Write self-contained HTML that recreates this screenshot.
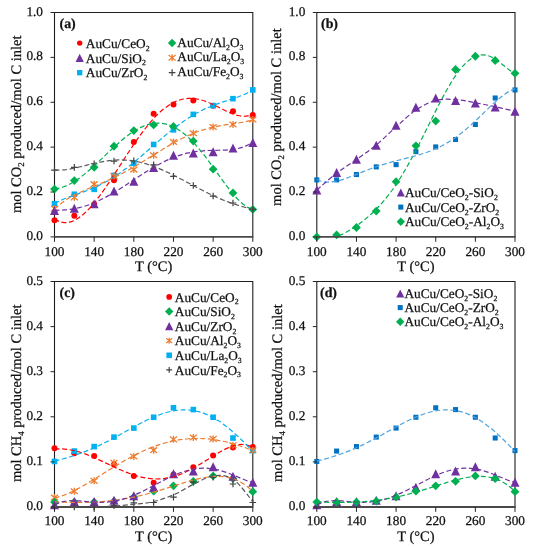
<!DOCTYPE html>
<html><head><meta charset="utf-8"><style>
html,body{margin:0;padding:0;background:#fff;width:533px;height:550px;overflow:hidden}
svg{display:block;will-change:transform}
text{font-family:"Liberation Serif",serif;fill:#111;stroke:#111;stroke-width:0.25px;text-rendering:geometricPrecision}
.tk{font-size:13.3px}
.lg{font-size:13.3px}
.sb{font-size:7.8px}
.sbx{font-size:8.8px}
.ax{font-size:14.5px}
.pl{font-size:13.9px;font-weight:bold}
</style></head><body><svg width="533" height="550" viewBox="0 0 533 550"><defs><clipPath id="clipa"><rect x="54.50" y="12.50" width="198.30" height="224.40"/></clipPath><clipPath id="clipb"><rect x="316.80" y="12.50" width="198.20" height="224.40"/></clipPath><clipPath id="clipc"><rect x="54.50" y="281.50" width="198.30" height="225.50"/></clipPath><clipPath id="clipd"><rect x="316.80" y="281.50" width="198.20" height="225.50"/></clipPath></defs><path d="M54.50,236.90 L54.50,12.50 L252.80,12.50 L252.80,236.90" fill="none" stroke="#1e1e1e" stroke-width="1.1"/><path d="M316.80,236.90 L316.80,12.50 L515.00,12.50 L515.00,236.90" fill="none" stroke="#1e1e1e" stroke-width="1.1"/><path d="M54.50,507.00 L54.50,281.50 L252.80,281.50 L252.80,507.00" fill="none" stroke="#1e1e1e" stroke-width="1.1"/><path d="M316.80,507.00 L316.80,281.50 L515.00,281.50 L515.00,507.00" fill="none" stroke="#1e1e1e" stroke-width="1.1"/><circle cx="54.50" cy="220.29" r="3.00" fill="#FF0000"/><circle cx="74.33" cy="215.81" r="3.00" fill="#FF0000"/><circle cx="94.16" cy="204.14" r="3.00" fill="#FF0000"/><circle cx="113.99" cy="180.35" r="3.00" fill="#FF0000"/><circle cx="133.82" cy="141.98" r="3.00" fill="#FF0000"/><circle cx="153.65" cy="113.70" r="3.00" fill="#FF0000"/><circle cx="173.48" cy="104.50" r="3.00" fill="#FF0000"/><circle cx="193.31" cy="100.46" r="3.00" fill="#FF0000"/><circle cx="213.14" cy="105.63" r="3.00" fill="#FF0000"/><circle cx="232.97" cy="111.24" r="3.00" fill="#FF0000"/><circle cx="252.80" cy="115.05" r="3.00" fill="#FF0000"/><rect x="51.70" y="200.89" width="5.60" height="5.60" fill="#00B0F0"/><rect x="71.53" y="191.46" width="5.60" height="5.60" fill="#00B0F0"/><rect x="91.36" y="186.53" width="5.60" height="5.60" fill="#00B0F0"/><rect x="111.19" y="172.61" width="5.60" height="5.60" fill="#00B0F0"/><rect x="131.02" y="160.50" width="5.60" height="5.60" fill="#00B0F0"/><rect x="150.85" y="141.65" width="5.60" height="5.60" fill="#00B0F0"/><rect x="170.68" y="127.06" width="5.60" height="5.60" fill="#00B0F0"/><rect x="190.51" y="111.58" width="5.60" height="5.60" fill="#00B0F0"/><rect x="210.34" y="102.83" width="5.60" height="5.60" fill="#00B0F0"/><rect x="230.17" y="95.87" width="5.60" height="5.60" fill="#00B0F0"/><rect x="250.00" y="87.12" width="5.60" height="5.60" fill="#00B0F0"/><path d="M51.00,205.83 L58.00,211.43 M51.00,211.43 L58.00,205.83 M54.50,205.13 L54.50,212.13" stroke="#ED7D31" stroke-width="1.3" fill="none"/><path d="M70.83,194.61 L77.83,200.21 M70.83,200.21 L77.83,194.61 M74.33,193.91 L74.33,200.91" stroke="#ED7D31" stroke-width="1.3" fill="none"/><path d="M90.66,181.37 L97.66,186.97 M90.66,186.97 L97.66,181.37 M94.16,180.67 L94.16,187.67" stroke="#ED7D31" stroke-width="1.3" fill="none"/><path d="M110.49,173.29 L117.49,178.89 M110.49,178.89 L117.49,173.29 M113.99,172.59 L113.99,179.59" stroke="#ED7D31" stroke-width="1.3" fill="none"/><path d="M130.32,166.78 L137.32,172.38 M130.32,172.38 L137.32,166.78 M133.82,166.08 L133.82,173.08" stroke="#ED7D31" stroke-width="1.3" fill="none"/><path d="M150.15,152.42 L157.15,158.02 M150.15,158.02 L157.15,152.42 M153.65,151.72 L153.65,158.72" stroke="#ED7D31" stroke-width="1.3" fill="none"/><path d="M169.98,139.18 L176.98,144.78 M169.98,144.78 L176.98,139.18 M173.48,138.48 L173.48,145.48" stroke="#ED7D31" stroke-width="1.3" fill="none"/><path d="M189.81,130.43 L196.81,136.03 M189.81,136.03 L196.81,130.43 M193.31,129.73 L193.31,136.73" stroke="#ED7D31" stroke-width="1.3" fill="none"/><path d="M209.64,124.14 L216.64,129.74 M209.64,129.74 L216.64,124.14 M213.14,123.44 L213.14,130.44" stroke="#ED7D31" stroke-width="1.3" fill="none"/><path d="M229.47,121.68 L236.47,127.28 M229.47,127.28 L236.47,121.68 M232.97,120.98 L232.97,127.98" stroke="#ED7D31" stroke-width="1.3" fill="none"/><path d="M249.30,116.74 L256.30,122.34 M249.30,122.34 L256.30,116.74 M252.80,116.04 L252.80,123.04" stroke="#ED7D31" stroke-width="1.3" fill="none"/><path d="M54.50,205.92 L59.00,214.92 L50.00,214.92 Z" fill="#7030A0"/><path d="M74.33,203.68 L78.83,212.68 L69.83,212.68 Z" fill="#7030A0"/><path d="M94.16,199.19 L98.66,208.19 L89.66,208.19 Z" fill="#7030A0"/><path d="M113.99,186.62 L118.49,195.62 L109.49,195.62 Z" fill="#7030A0"/><path d="M133.82,176.75 L138.32,185.75 L129.32,185.75 Z" fill="#7030A0"/><path d="M153.65,163.06 L158.15,172.06 L149.15,172.06 Z" fill="#7030A0"/><path d="M173.48,150.72 L177.98,159.72 L168.98,159.72 Z" fill="#7030A0"/><path d="M193.31,148.47 L197.81,157.47 L188.81,157.47 Z" fill="#7030A0"/><path d="M213.14,147.13 L217.64,156.13 L208.64,156.13 Z" fill="#7030A0"/><path d="M232.97,143.54 L237.47,152.54 L228.47,152.54 Z" fill="#7030A0"/><path d="M252.80,137.93 L257.30,146.93 L248.30,146.93 Z" fill="#7030A0"/><path d="M54.50,184.70 L58.90,189.10 L54.50,193.50 L50.10,189.10 Z" fill="#00B050"/><path d="M74.33,176.18 L78.73,180.58 L74.33,184.98 L69.93,180.58 Z" fill="#00B050"/><path d="M94.16,162.94 L98.56,167.34 L94.16,171.74 L89.76,167.34 Z" fill="#00B050"/><path d="M113.99,141.84 L118.39,146.24 L113.99,150.64 L109.59,146.24 Z" fill="#00B050"/><path d="M133.82,126.13 L138.22,130.53 L133.82,134.93 L129.42,130.53 Z" fill="#00B050"/><path d="M153.65,120.52 L158.05,124.92 L153.65,129.32 L149.25,124.92 Z" fill="#00B050"/><path d="M173.48,122.10 L177.88,126.50 L173.48,130.90 L169.08,126.50 Z" fill="#00B050"/><path d="M193.31,136.68 L197.71,141.08 L193.31,145.48 L188.91,141.08 Z" fill="#00B050"/><path d="M213.14,164.73 L217.54,169.13 L213.14,173.53 L208.74,169.13 Z" fill="#00B050"/><path d="M232.97,188.52 L237.37,192.92 L232.97,197.32 L228.57,192.92 Z" fill="#00B050"/><path d="M252.80,205.01 L257.20,209.41 L252.80,213.81 L248.40,209.41 Z" fill="#00B050"/><path d="M51.20,170.03 L57.80,170.03 M54.50,166.73 L54.50,173.33" stroke="#404040" stroke-width="1.2" fill="none"/><path d="M71.03,167.34 L77.63,167.34 M74.33,164.04 L74.33,170.64" stroke="#404040" stroke-width="1.2" fill="none"/><path d="M90.86,163.75 L97.46,163.75 M94.16,160.45 L94.16,167.05" stroke="#404040" stroke-width="1.2" fill="none"/><path d="M110.69,161.05 L117.29,161.05 M113.99,157.75 L113.99,164.35" stroke="#404040" stroke-width="1.2" fill="none"/><path d="M130.52,160.83 L137.12,160.83 M133.82,157.53 L133.82,164.13" stroke="#404040" stroke-width="1.2" fill="none"/><path d="M150.35,164.87 L156.95,164.87 M153.65,161.57 L153.65,168.17" stroke="#404040" stroke-width="1.2" fill="none"/><path d="M170.18,176.31 L176.78,176.31 M173.48,173.01 L173.48,179.61" stroke="#404040" stroke-width="1.2" fill="none"/><path d="M190.01,185.51 L196.61,185.51 M193.31,182.21 L193.31,188.81" stroke="#404040" stroke-width="1.2" fill="none"/><path d="M209.84,196.06 L216.44,196.06 M213.14,192.76 L213.14,199.36" stroke="#404040" stroke-width="1.2" fill="none"/><path d="M229.67,203.02 L236.27,203.02 M232.97,199.72 L232.97,206.32" stroke="#404040" stroke-width="1.2" fill="none"/><path d="M249.50,209.41 L256.10,209.41 M252.80,206.11 L252.80,212.71" stroke="#404040" stroke-width="1.2" fill="none"/><path d="M54.50,219.02 C55.33,219.44 57.80,220.97 59.46,221.56 C61.11,222.16 62.76,222.47 64.42,222.57 C66.07,222.66 67.72,222.50 69.37,222.14 C71.03,221.78 72.68,221.18 74.33,220.40 C75.98,219.62 77.63,218.63 79.29,217.48 C80.94,216.33 82.59,214.98 84.25,213.50 C85.90,212.02 87.55,210.37 89.20,208.60 C90.86,206.83 92.51,204.91 94.16,202.90 C95.81,200.89 97.47,198.75 99.12,196.54 C100.77,194.34 102.42,192.02 104.08,189.66 C105.73,187.29 107.38,184.84 109.03,182.37 C110.69,179.89 112.34,177.35 113.99,174.81 C115.64,172.27 117.30,169.68 118.95,167.11 C120.60,164.53 122.25,161.94 123.91,159.38 C125.56,156.82 127.21,154.25 128.86,151.74 C130.52,149.23 132.17,146.73 133.82,144.31 C135.47,141.88 137.12,139.49 138.78,137.17 C140.43,134.86 142.08,132.61 143.74,130.44 C145.39,128.28 147.04,126.19 148.69,124.20 C150.34,122.21 152.00,120.30 153.65,118.51 C155.30,116.72 156.96,115.03 158.61,113.46 C160.26,111.89 161.91,110.42 163.56,109.08 C165.22,107.75 166.87,106.53 168.52,105.43 C170.18,104.34 171.83,103.37 173.48,102.54 C175.13,101.70 176.78,100.99 178.44,100.40 C180.09,99.82 181.74,99.36 183.40,99.03 C185.05,98.70 186.70,98.50 188.35,98.41 C190.01,98.32 191.66,98.35 193.31,98.49 C194.96,98.63 196.62,98.88 198.27,99.23 C199.92,99.57 201.57,100.03 203.22,100.55 C204.88,101.07 206.53,101.69 208.18,102.36 C209.84,103.02 211.49,103.77 213.14,104.54 C214.79,105.31 216.44,106.15 218.10,106.97 C219.75,107.79 221.40,108.65 223.06,109.47 C224.71,110.29 226.36,111.12 228.01,111.87 C229.67,112.62 231.32,113.35 232.97,113.96 C234.62,114.56 236.28,115.12 237.93,115.50 C239.58,115.88 241.23,116.18 242.89,116.24 C244.54,116.30 246.19,116.24 247.84,115.89 C249.50,115.53 251.97,114.42 252.80,114.12" fill="none" stroke="#FF0000" stroke-width="1.20" stroke-dasharray="5,2.6" clip-path="url(#clipa)"/><path d="M54.50,203.51 C55.33,203.08 57.80,201.73 59.46,200.94 C61.11,200.15 62.76,199.46 64.42,198.78 C66.07,198.11 67.72,197.50 69.37,196.89 C71.03,196.28 72.68,195.71 74.33,195.13 C75.98,194.55 77.63,194.00 79.29,193.41 C80.94,192.83 82.59,192.25 84.25,191.64 C85.90,191.03 87.55,190.40 89.20,189.74 C90.86,189.08 92.51,188.39 94.16,187.67 C95.81,186.94 97.47,186.18 99.12,185.37 C100.77,184.56 102.42,183.72 104.08,182.83 C105.73,181.94 107.38,181.01 109.03,180.03 C110.69,179.05 112.34,178.03 113.99,176.96 C115.64,175.90 117.30,174.79 118.95,173.65 C120.60,172.50 122.25,171.31 123.91,170.09 C125.56,168.86 127.21,167.60 128.86,166.31 C130.52,165.02 132.17,163.69 133.82,162.35 C135.47,161.00 137.12,159.62 138.78,158.23 C140.43,156.84 142.08,155.43 143.74,154.01 C145.39,152.59 147.04,151.15 148.69,149.72 C150.34,148.28 152.00,146.83 153.65,145.40 C155.30,143.96 156.96,142.52 158.61,141.10 C160.26,139.68 161.91,138.26 163.56,136.87 C165.22,135.48 166.87,134.10 168.52,132.75 C170.18,131.40 171.83,130.07 173.48,128.78 C175.13,127.49 176.78,126.22 178.44,125.00 C180.09,123.77 181.74,122.58 183.40,121.43 C185.05,120.28 186.70,119.17 188.35,118.11 C190.01,117.04 191.66,116.02 193.31,115.04 C194.96,114.07 196.62,113.14 198.27,112.25 C199.92,111.36 201.57,110.53 203.22,109.73 C204.88,108.93 206.53,108.18 208.18,107.46 C209.84,106.75 211.49,106.08 213.14,105.43 C214.79,104.79 216.44,104.19 218.10,103.60 C219.75,103.01 221.40,102.46 223.06,101.92 C224.71,101.37 226.36,100.85 228.01,100.31 C229.67,99.77 231.32,99.25 232.97,98.70 C234.62,98.15 236.28,97.60 237.93,96.99 C239.58,96.38 241.23,95.76 242.89,95.05 C244.54,94.34 246.19,93.60 247.84,92.74 C249.50,91.89 251.97,90.38 252.80,89.91" fill="none" stroke="#00B0F0" stroke-width="1.20" stroke-dasharray="5,2.6" clip-path="url(#clipa)"/><path d="M54.50,209.27 C55.33,208.52 57.80,206.13 59.46,204.75 C61.11,203.37 62.76,202.14 64.42,200.98 C66.07,199.82 67.72,198.79 69.37,197.80 C71.03,196.81 72.68,195.91 74.33,195.05 C75.98,194.19 77.63,193.40 79.29,192.63 C80.94,191.85 82.59,191.13 84.25,190.41 C85.90,189.70 87.55,189.01 89.20,188.32 C90.86,187.64 92.51,186.96 94.16,186.28 C95.81,185.60 97.47,184.92 99.12,184.23 C100.77,183.53 102.42,182.83 104.08,182.11 C105.73,181.39 107.38,180.66 109.03,179.91 C110.69,179.15 112.34,178.38 113.99,177.58 C115.64,176.79 117.30,175.97 118.95,175.13 C120.60,174.29 122.25,173.43 123.91,172.54 C125.56,171.66 127.21,170.75 128.86,169.83 C130.52,168.90 132.17,167.95 133.82,166.99 C135.47,166.03 137.12,165.05 138.78,164.06 C140.43,163.07 142.08,162.06 143.74,161.05 C145.39,160.03 147.04,159.01 148.69,157.98 C150.34,156.96 152.00,155.93 153.65,154.90 C155.30,153.88 156.96,152.85 158.61,151.83 C160.26,150.82 161.91,149.81 163.56,148.81 C165.22,147.82 166.87,146.83 168.52,145.87 C170.18,144.91 171.83,143.96 173.48,143.04 C175.13,142.12 176.78,141.22 178.44,140.35 C180.09,139.48 181.74,138.63 183.40,137.83 C185.05,137.02 186.70,136.24 188.35,135.50 C190.01,134.76 191.66,134.05 193.31,133.38 C194.96,132.71 196.62,132.08 198.27,131.49 C199.92,130.90 201.57,130.34 203.22,129.83 C204.88,129.31 206.53,128.83 208.18,128.39 C209.84,127.94 211.49,127.54 213.14,127.16 C214.79,126.79 216.44,126.45 218.10,126.13 C219.75,125.81 221.40,125.53 223.06,125.26 C224.71,124.98 226.36,124.74 228.01,124.49 C229.67,124.25 231.32,124.02 232.97,123.79 C234.62,123.55 236.28,123.32 237.93,123.06 C239.58,122.80 241.23,122.54 242.89,122.22 C244.54,121.91 246.19,121.58 247.84,121.18 C249.50,120.77 251.97,120.03 252.80,119.80" fill="none" stroke="#ED7D31" stroke-width="1.20" stroke-dasharray="5,2.6" clip-path="url(#clipa)"/><path d="M54.50,210.28 C55.33,210.27 57.80,210.27 59.46,210.21 C61.11,210.16 62.76,210.08 64.42,209.96 C66.07,209.83 67.72,209.67 69.37,209.47 C71.03,209.26 72.68,209.01 74.33,208.71 C75.98,208.41 77.63,208.06 79.29,207.67 C80.94,207.27 82.59,206.82 84.25,206.33 C85.90,205.83 87.55,205.28 89.20,204.69 C90.86,204.09 92.51,203.45 94.16,202.76 C95.81,202.07 97.47,201.33 99.12,200.55 C100.77,199.77 102.42,198.94 104.08,198.08 C105.73,197.23 107.38,196.32 109.03,195.39 C110.69,194.46 112.34,193.50 113.99,192.51 C115.64,191.52 117.30,190.50 118.95,189.46 C120.60,188.43 122.25,187.37 123.91,186.30 C125.56,185.23 127.21,184.14 128.86,183.06 C130.52,181.97 132.17,180.88 133.82,179.79 C135.47,178.70 137.12,177.61 138.78,176.53 C140.43,175.45 142.08,174.38 143.74,173.32 C145.39,172.27 147.04,171.23 148.69,170.22 C150.34,169.21 152.00,168.21 153.65,167.25 C155.30,166.29 156.96,165.36 158.61,164.46 C160.26,163.57 161.91,162.70 163.56,161.88 C165.22,161.06 166.87,160.28 168.52,159.54 C170.18,158.80 171.83,158.11 173.48,157.46 C175.13,156.81 176.78,156.21 178.44,155.66 C180.09,155.10 181.74,154.60 183.40,154.14 C185.05,153.68 186.70,153.27 188.35,152.91 C190.01,152.54 191.66,152.23 193.31,151.95 C194.96,151.68 196.62,151.45 198.27,151.25 C199.92,151.06 201.57,150.91 203.22,150.78 C204.88,150.66 206.53,150.57 208.18,150.50 C209.84,150.42 211.49,150.38 213.14,150.34 C214.79,150.30 216.44,150.28 218.10,150.24 C219.75,150.21 221.40,150.18 223.06,150.12 C224.71,150.06 226.36,149.99 228.01,149.87 C229.67,149.75 231.32,149.61 232.97,149.38 C234.62,149.16 236.28,148.90 237.93,148.52 C239.58,148.15 241.23,147.71 242.89,147.13 C244.54,146.56 246.19,145.89 247.84,145.05 C249.50,144.20 251.97,142.57 252.80,142.07" fill="none" stroke="#7030A0" stroke-width="1.20" stroke-dasharray="5,2.6" clip-path="url(#clipa)"/><path d="M54.50,188.91 C55.33,188.77 57.80,188.48 59.46,188.09 C61.11,187.69 62.76,187.16 64.42,186.54 C66.07,185.91 67.72,185.15 69.37,184.31 C71.03,183.47 72.68,182.52 74.33,181.49 C75.98,180.46 77.63,179.33 79.29,178.14 C80.94,176.95 82.59,175.67 84.25,174.35 C85.90,173.02 87.55,171.62 89.20,170.19 C90.86,168.76 92.51,167.27 94.16,165.76 C95.81,164.26 97.47,162.70 99.12,161.15 C100.77,159.60 102.42,158.02 104.08,156.45 C105.73,154.88 107.38,153.30 109.03,151.74 C110.69,150.19 112.34,148.64 113.99,147.13 C115.64,145.62 117.30,144.13 118.95,142.69 C120.60,141.26 122.25,139.86 123.91,138.53 C125.56,137.19 127.21,135.91 128.86,134.71 C130.52,133.51 132.17,132.37 133.82,131.32 C135.47,130.27 137.12,129.30 138.78,128.43 C140.43,127.57 142.08,126.79 143.74,126.12 C145.39,125.45 147.04,124.88 148.69,124.43 C150.34,123.98 152.00,123.64 153.65,123.42 C155.30,123.21 156.96,123.11 158.61,123.14 C160.26,123.17 161.91,123.32 163.56,123.61 C165.22,123.89 166.87,124.30 168.52,124.85 C170.18,125.39 171.83,126.07 173.48,126.87 C175.13,127.67 176.78,128.61 178.44,129.67 C180.09,130.73 181.74,131.92 183.40,133.22 C185.05,134.53 186.70,135.96 188.35,137.50 C190.01,139.03 191.66,140.69 193.31,142.44 C194.96,144.19 196.62,146.05 198.27,147.99 C199.92,149.92 201.57,151.96 203.22,154.05 C204.88,156.14 206.53,158.32 208.18,160.53 C209.84,162.73 211.49,165.01 213.14,167.29 C214.79,169.56 216.44,171.89 218.10,174.19 C219.75,176.48 221.40,178.80 223.06,181.05 C224.71,183.31 226.36,185.56 228.01,187.70 C229.67,189.85 231.32,191.96 232.97,193.92 C234.62,195.87 236.28,197.76 237.93,199.45 C239.58,201.14 241.23,202.72 242.89,204.04 C244.54,205.37 246.19,206.54 247.84,207.40 C249.50,208.26 251.97,208.91 252.80,209.21" fill="none" stroke="#00B050" stroke-width="1.20" stroke-dasharray="5,2.6" clip-path="url(#clipa)"/><path d="M54.50,169.76 C55.33,169.81 57.80,170.05 59.46,170.06 C61.11,170.07 62.76,169.97 64.42,169.82 C66.07,169.66 67.72,169.42 69.37,169.15 C71.03,168.88 72.68,168.54 74.33,168.19 C75.98,167.84 77.63,167.44 79.29,167.04 C80.94,166.64 82.59,166.21 84.25,165.79 C85.90,165.37 87.55,164.94 89.20,164.53 C90.86,164.12 92.51,163.70 94.16,163.32 C95.81,162.94 97.47,162.57 99.12,162.24 C100.77,161.91 102.42,161.59 104.08,161.32 C105.73,161.05 107.38,160.81 109.03,160.62 C110.69,160.42 112.34,160.27 113.99,160.16 C115.64,160.04 117.30,159.98 118.95,159.96 C120.60,159.94 122.25,159.96 123.91,160.04 C125.56,160.11 127.21,160.23 128.86,160.40 C130.52,160.57 132.17,160.79 133.82,161.06 C135.47,161.33 137.12,161.64 138.78,162.00 C140.43,162.36 142.08,162.77 143.74,163.22 C145.39,163.67 147.04,164.17 148.69,164.70 C150.34,165.23 152.00,165.81 153.65,166.42 C155.30,167.03 156.96,167.68 158.61,168.35 C160.26,169.03 161.91,169.74 163.56,170.48 C165.22,171.22 166.87,171.99 168.52,172.77 C170.18,173.56 171.83,174.37 173.48,175.20 C175.13,176.02 176.78,176.87 178.44,177.73 C180.09,178.58 181.74,179.45 183.40,180.32 C185.05,181.20 186.70,182.08 188.35,182.96 C190.01,183.84 191.66,184.72 193.31,185.60 C194.96,186.47 196.62,187.35 198.27,188.21 C199.92,189.07 201.57,189.93 203.22,190.77 C204.88,191.60 206.53,192.43 208.18,193.24 C209.84,194.05 211.49,194.84 213.14,195.61 C214.79,196.38 216.44,197.13 218.10,197.85 C219.75,198.57 221.40,199.27 223.06,199.94 C224.71,200.62 226.36,201.26 228.01,201.88 C229.67,202.50 231.32,203.09 232.97,203.66 C234.62,204.22 236.28,204.76 237.93,205.27 C239.58,205.78 241.23,206.26 242.89,206.72 C244.54,207.18 246.19,207.61 247.84,208.03 C249.50,208.44 251.97,209.01 252.80,209.20" fill="none" stroke="#595959" stroke-width="1.20" stroke-dasharray="5,2.6" clip-path="url(#clipa)"/><path d="M316.80,232.50 L321.20,236.90 L316.80,241.30 L312.40,236.90 Z" fill="#00B050"/><path d="M336.62,230.48 L341.02,234.88 L336.62,239.28 L332.22,234.88 Z" fill="#00B050"/><path d="M356.44,223.08 L360.84,227.48 L356.44,231.88 L352.04,227.48 Z" fill="#00B050"/><path d="M376.26,206.69 L380.66,211.09 L376.26,215.49 L371.86,211.09 Z" fill="#00B050"/><path d="M396.08,177.30 L400.48,181.70 L396.08,186.10 L391.68,181.70 Z" fill="#00B050"/><path d="M415.90,141.39 L420.30,145.79 L415.90,150.19 L411.50,145.79 Z" fill="#00B050"/><path d="M435.72,116.71 L440.12,121.11 L435.72,125.51 L431.32,121.11 Z" fill="#00B050"/><path d="M455.54,65.10 L459.94,69.50 L455.54,73.90 L451.14,69.50 Z" fill="#00B050"/><path d="M475.36,51.86 L479.76,56.26 L475.36,60.66 L470.96,56.26 Z" fill="#00B050"/><path d="M495.18,56.12 L499.58,60.52 L495.18,64.92 L490.78,60.52 Z" fill="#00B050"/><path d="M515.00,68.91 L519.40,73.31 L515.00,77.71 L510.60,73.31 Z" fill="#00B050"/><rect x="314.28" y="177.38" width="5.04" height="5.04" fill="#0070C0"/><rect x="334.10" y="177.38" width="5.04" height="5.04" fill="#0070C0"/><rect x="353.92" y="172.00" width="5.04" height="5.04" fill="#0070C0"/><rect x="373.74" y="164.37" width="5.04" height="5.04" fill="#0070C0"/><rect x="393.56" y="162.12" width="5.04" height="5.04" fill="#0070C0"/><rect x="413.38" y="149.11" width="5.04" height="5.04" fill="#0070C0"/><rect x="433.20" y="144.40" width="5.04" height="5.04" fill="#0070C0"/><rect x="453.02" y="136.99" width="5.04" height="5.04" fill="#0070C0"/><rect x="472.84" y="121.96" width="5.04" height="5.04" fill="#0070C0"/><rect x="492.66" y="95.48" width="5.04" height="5.04" fill="#0070C0"/><rect x="512.48" y="87.40" width="5.04" height="5.04" fill="#0070C0"/><path d="M316.80,185.50 L321.30,194.50 L312.30,194.50 Z" fill="#7030A0"/><path d="M336.62,168.00 L341.12,177.00 L332.12,177.00 Z" fill="#7030A0"/><path d="M356.44,154.76 L360.94,163.76 L351.94,163.76 Z" fill="#7030A0"/><path d="M376.26,140.84 L380.76,149.84 L371.76,149.84 Z" fill="#7030A0"/><path d="M396.08,120.87 L400.58,129.87 L391.58,129.87 Z" fill="#7030A0"/><path d="M415.90,102.70 L420.40,111.70 L411.40,111.70 Z" fill="#7030A0"/><path d="M435.72,93.50 L440.22,102.50 L431.22,102.50 Z" fill="#7030A0"/><path d="M455.54,95.96 L460.04,104.96 L451.04,104.96 Z" fill="#7030A0"/><path d="M475.36,98.43 L479.86,107.43 L470.86,107.43 Z" fill="#7030A0"/><path d="M495.18,102.47 L499.68,111.47 L490.68,111.47 Z" fill="#7030A0"/><path d="M515.00,106.74 L519.50,115.74 L510.50,115.74 Z" fill="#7030A0"/><path d="M316.80,236.48 C317.63,236.80 320.10,238.01 321.75,238.39 C323.41,238.78 325.06,238.85 326.71,238.80 C328.36,238.75 330.01,238.47 331.67,238.10 C333.32,237.74 334.97,237.20 336.62,236.60 C338.27,236.01 339.92,235.29 341.57,234.52 C343.23,233.74 344.88,232.89 346.53,231.98 C348.18,231.07 349.83,230.10 351.49,229.07 C353.14,228.05 354.79,226.97 356.44,225.84 C358.09,224.70 359.74,223.51 361.39,222.26 C363.05,221.01 364.70,219.70 366.35,218.32 C368.00,216.94 369.65,215.50 371.31,213.98 C372.96,212.45 374.61,210.86 376.26,209.17 C377.91,207.48 379.56,205.72 381.22,203.85 C382.87,201.98 384.52,200.03 386.17,197.97 C387.82,195.91 389.47,193.76 391.12,191.50 C392.78,189.24 394.43,186.87 396.08,184.41 C397.73,181.95 399.38,179.38 401.04,176.71 C402.69,174.05 404.34,171.28 405.99,168.43 C407.64,165.58 409.29,162.62 410.94,159.60 C412.60,156.59 414.25,153.47 415.90,150.32 C417.55,147.16 419.20,143.93 420.86,140.67 C422.51,137.41 424.16,134.09 425.81,130.78 C427.46,127.47 429.11,124.11 430.76,120.79 C432.42,117.48 434.07,114.14 435.72,110.88 C437.37,107.62 439.02,104.37 440.68,101.22 C442.33,98.07 443.98,94.97 445.63,92.00 C447.28,89.04 448.93,86.14 450.59,83.42 C452.24,80.70 453.89,78.09 455.54,75.67 C457.19,73.26 458.84,70.99 460.50,68.94 C462.15,66.89 463.80,65.02 465.45,63.39 C467.10,61.76 468.75,60.33 470.40,59.15 C472.06,57.98 473.71,57.03 475.36,56.33 C477.01,55.64 478.66,55.19 480.31,54.97 C481.97,54.76 483.62,54.81 485.27,55.07 C486.92,55.32 488.57,55.83 490.23,56.51 C491.88,57.19 493.53,58.11 495.18,59.14 C496.83,60.16 498.48,61.40 500.13,62.65 C501.79,63.90 503.44,65.32 505.09,66.64 C506.74,67.96 508.39,69.38 510.05,70.56 C511.70,71.73 514.17,73.18 515.00,73.70" fill="none" stroke="#00B050" stroke-width="1.20" stroke-dasharray="5,2.6" clip-path="url(#clipb)"/><path d="M316.80,179.41 C317.63,179.73 320.10,180.87 321.75,181.31 C323.41,181.76 325.06,181.97 326.71,182.08 C328.36,182.18 330.01,182.11 331.67,181.95 C333.32,181.80 334.97,181.50 336.62,181.14 C338.27,180.79 339.92,180.33 341.57,179.83 C343.23,179.34 344.88,178.77 346.53,178.18 C348.18,177.59 349.83,176.95 351.49,176.31 C353.14,175.67 354.79,175.00 356.44,174.34 C358.09,173.67 359.74,173.00 361.39,172.33 C363.05,171.67 364.70,171.01 366.35,170.37 C368.00,169.73 369.65,169.10 371.31,168.49 C372.96,167.89 374.61,167.29 376.26,166.73 C377.91,166.16 379.56,165.61 381.22,165.08 C382.87,164.56 384.52,164.05 386.17,163.56 C387.82,163.08 389.47,162.61 391.12,162.16 C392.78,161.70 394.43,161.27 396.08,160.84 C397.73,160.41 399.38,159.99 401.04,159.58 C402.69,159.16 404.34,158.75 405.99,158.34 C407.64,157.92 409.29,157.51 410.94,157.08 C412.60,156.64 414.25,156.21 415.90,155.75 C417.55,155.28 419.20,154.81 420.86,154.30 C422.51,153.79 424.16,153.27 425.81,152.70 C427.46,152.13 429.11,151.53 430.76,150.88 C432.42,150.24 434.07,149.56 435.72,148.82 C437.37,148.09 439.02,147.31 440.68,146.48 C442.33,145.64 443.98,144.76 445.63,143.82 C447.28,142.88 448.93,141.88 450.59,140.82 C452.24,139.77 453.89,138.66 455.54,137.49 C457.19,136.32 458.84,135.09 460.50,133.81 C462.15,132.53 463.80,131.19 465.45,129.81 C467.10,128.42 468.75,126.98 470.40,125.51 C472.06,124.04 473.71,122.51 475.36,120.97 C477.01,119.42 478.66,117.84 480.31,116.25 C481.97,114.66 483.62,113.04 485.27,111.44 C486.92,109.84 488.57,108.23 490.23,106.66 C491.88,105.09 493.53,103.52 495.18,102.04 C496.83,100.55 498.48,99.08 500.13,97.73 C501.79,96.38 503.44,95.08 505.09,93.94 C506.74,92.80 508.39,91.73 510.05,90.87 C511.70,90.01 514.17,89.13 515.00,88.78" fill="none" stroke="#4FA3DE" stroke-width="1.20" stroke-dasharray="5,2.6" clip-path="url(#clipb)"/><path d="M316.80,190.00 C320.10,187.20 330.01,178.26 336.62,173.17 C343.23,168.08 349.83,164.19 356.44,159.48 C363.05,154.77 369.65,150.32 376.26,144.90 C382.87,139.47 389.47,132.74 396.08,126.94 C402.69,121.15 409.29,114.53 415.90,110.11 C422.51,105.70 429.11,102.22 435.72,100.46 C442.33,98.71 448.93,99.19 455.54,99.57 C462.15,99.94 468.75,101.51 475.36,102.71 C481.97,103.91 488.57,105.33 495.18,106.75 C501.79,108.17 511.70,110.49 515.00,111.24" fill="none" stroke="#7030A0" stroke-width="1.20" stroke-dasharray="5,2.6" clip-path="url(#clipb)"/><circle cx="54.50" cy="448.37" r="3.00" fill="#FF0000"/><circle cx="74.33" cy="453.33" r="3.00" fill="#FF0000"/><circle cx="94.16" cy="456.04" r="3.00" fill="#FF0000"/><circle cx="113.99" cy="464.61" r="3.00" fill="#FF0000"/><circle cx="133.82" cy="475.88" r="3.00" fill="#FF0000"/><circle cx="153.65" cy="482.65" r="3.00" fill="#FF0000"/><circle cx="173.48" cy="474.53" r="3.00" fill="#FF0000"/><circle cx="193.31" cy="467.31" r="3.00" fill="#FF0000"/><circle cx="213.14" cy="455.59" r="3.00" fill="#FF0000"/><circle cx="232.97" cy="447.47" r="3.00" fill="#FF0000"/><circle cx="252.80" cy="447.02" r="3.00" fill="#FF0000"/><rect x="51.70" y="458.65" width="5.60" height="5.60" fill="#00B0F0"/><rect x="71.53" y="448.28" width="5.60" height="5.60" fill="#00B0F0"/><rect x="91.36" y="443.77" width="5.60" height="5.60" fill="#00B0F0"/><rect x="111.19" y="434.30" width="5.60" height="5.60" fill="#00B0F0"/><rect x="131.02" y="425.27" width="5.60" height="5.60" fill="#00B0F0"/><rect x="150.85" y="414.45" width="5.60" height="5.60" fill="#00B0F0"/><rect x="170.68" y="404.98" width="5.60" height="5.60" fill="#00B0F0"/><rect x="190.51" y="406.78" width="5.60" height="5.60" fill="#00B0F0"/><rect x="210.34" y="414.45" width="5.60" height="5.60" fill="#00B0F0"/><rect x="230.17" y="435.20" width="5.60" height="5.60" fill="#00B0F0"/><rect x="250.00" y="447.82" width="5.60" height="5.60" fill="#00B0F0"/><path d="M51.00,494.73 L58.00,500.33 M51.00,500.33 L58.00,494.73 M54.50,494.03 L54.50,501.03" stroke="#ED7D31" stroke-width="1.3" fill="none"/><path d="M70.83,488.41 L77.83,494.01 M70.83,494.01 L77.83,488.41 M74.33,487.71 L74.33,494.71" stroke="#ED7D31" stroke-width="1.3" fill="none"/><path d="M90.66,478.04 L97.66,483.64 M90.66,483.64 L97.66,478.04 M94.16,477.34 L94.16,484.34" stroke="#ED7D31" stroke-width="1.3" fill="none"/><path d="M110.49,460.00 L117.49,465.60 M110.49,465.60 L117.49,460.00 M113.99,459.30 L113.99,466.30" stroke="#ED7D31" stroke-width="1.3" fill="none"/><path d="M130.32,453.69 L137.32,459.29 M130.32,459.29 L137.32,453.69 M133.82,452.99 L133.82,459.99" stroke="#ED7D31" stroke-width="1.3" fill="none"/><path d="M150.15,447.37 L157.15,452.97 M150.15,452.97 L157.15,447.37 M153.65,446.67 L153.65,453.67" stroke="#ED7D31" stroke-width="1.3" fill="none"/><path d="M169.98,436.55 L176.98,442.15 M169.98,442.15 L176.98,436.55 M173.48,435.85 L173.48,442.85" stroke="#ED7D31" stroke-width="1.3" fill="none"/><path d="M189.81,434.75 L196.81,440.35 M189.81,440.35 L196.81,434.75 M193.31,434.05 L193.31,441.05" stroke="#ED7D31" stroke-width="1.3" fill="none"/><path d="M209.64,436.10 L216.64,441.70 M209.64,441.70 L216.64,436.10 M213.14,435.40 L213.14,442.40" stroke="#ED7D31" stroke-width="1.3" fill="none"/><path d="M229.47,442.41 L236.47,448.01 M229.47,448.01 L236.47,442.41 M232.97,441.71 L232.97,448.71" stroke="#ED7D31" stroke-width="1.3" fill="none"/><path d="M249.30,447.37 L256.30,452.97 M249.30,452.97 L256.30,447.37 M252.80,446.67 L252.80,453.67" stroke="#ED7D31" stroke-width="1.3" fill="none"/><path d="M54.50,497.64 L58.90,502.04 L54.50,506.44 L50.10,502.04 Z" fill="#00B050"/><path d="M74.33,497.64 L78.73,502.04 L74.33,506.44 L69.93,502.04 Z" fill="#00B050"/><path d="M94.16,497.64 L98.56,502.04 L94.16,506.44 L89.76,502.04 Z" fill="#00B050"/><path d="M113.99,496.74 L118.39,501.14 L113.99,505.54 L109.59,501.14 Z" fill="#00B050"/><path d="M133.82,492.68 L138.22,497.08 L133.82,501.48 L129.42,497.08 Z" fill="#00B050"/><path d="M153.65,486.81 L158.05,491.21 L153.65,495.61 L149.25,491.21 Z" fill="#00B050"/><path d="M173.48,481.40 L177.88,485.80 L173.48,490.20 L169.08,485.80 Z" fill="#00B050"/><path d="M193.31,476.89 L197.71,481.29 L193.31,485.69 L188.91,481.29 Z" fill="#00B050"/><path d="M213.14,471.48 L217.54,475.88 L213.14,480.28 L208.74,475.88 Z" fill="#00B050"/><path d="M232.97,474.19 L237.37,478.59 L232.97,482.99 L228.57,478.59 Z" fill="#00B050"/><path d="M252.80,487.27 L257.20,491.67 L252.80,496.07 L248.40,491.67 Z" fill="#00B050"/><path d="M54.50,500.25 L59.00,509.25 L50.00,509.25 Z" fill="#7030A0"/><path d="M74.33,497.09 L78.83,506.09 L69.83,506.09 Z" fill="#7030A0"/><path d="M94.16,497.09 L98.66,506.09 L89.66,506.09 Z" fill="#7030A0"/><path d="M113.99,495.74 L118.49,504.74 L109.49,504.74 Z" fill="#7030A0"/><path d="M133.82,491.23 L138.32,500.23 L129.32,500.23 Z" fill="#7030A0"/><path d="M153.65,482.66 L158.15,491.66 L149.15,491.66 Z" fill="#7030A0"/><path d="M173.48,469.13 L177.98,478.13 L168.98,478.13 Z" fill="#7030A0"/><path d="M193.31,466.42 L197.81,475.42 L188.81,475.42 Z" fill="#7030A0"/><path d="M213.14,462.36 L217.64,471.36 L208.64,471.36 Z" fill="#7030A0"/><path d="M232.97,471.83 L237.47,480.83 L228.47,480.83 Z" fill="#7030A0"/><path d="M252.80,477.69 L257.30,486.69 L248.30,486.69 Z" fill="#7030A0"/><path d="M51.20,507.00 L57.80,507.00 M54.50,503.70 L54.50,510.30" stroke="#404040" stroke-width="1.2" fill="none"/><path d="M71.03,507.00 L77.63,507.00 M74.33,503.70 L74.33,510.30" stroke="#404040" stroke-width="1.2" fill="none"/><path d="M90.86,507.00 L97.46,507.00 M94.16,503.70 L94.16,510.30" stroke="#404040" stroke-width="1.2" fill="none"/><path d="M110.69,505.65 L117.29,505.65 M113.99,502.35 L113.99,508.95" stroke="#404040" stroke-width="1.2" fill="none"/><path d="M130.52,502.94 L137.12,502.94 M133.82,499.64 L133.82,506.24" stroke="#404040" stroke-width="1.2" fill="none"/><path d="M150.35,502.49 L156.95,502.49 M153.65,499.19 L153.65,505.79" stroke="#404040" stroke-width="1.2" fill="none"/><path d="M170.18,497.08 L176.78,497.08 M173.48,493.78 L173.48,500.38" stroke="#404040" stroke-width="1.2" fill="none"/><path d="M190.01,482.19 L196.61,482.19 M193.31,478.89 L193.31,485.50" stroke="#404040" stroke-width="1.2" fill="none"/><path d="M209.84,477.23 L216.44,477.23 M213.14,473.93 L213.14,480.53" stroke="#404040" stroke-width="1.2" fill="none"/><path d="M229.67,484.00 L236.27,484.00 M232.97,480.70 L232.97,487.30" stroke="#404040" stroke-width="1.2" fill="none"/><path d="M249.50,502.49 L256.10,502.49 M252.80,499.19 L252.80,505.79" stroke="#404040" stroke-width="1.2" fill="none"/><path d="M54.50,449.18 C55.33,449.14 57.80,448.92 59.46,448.90 C61.11,448.88 62.76,448.95 64.42,449.08 C66.07,449.21 67.72,449.42 69.37,449.68 C71.03,449.95 72.68,450.29 74.33,450.68 C75.98,451.07 77.63,451.52 79.29,452.02 C80.94,452.52 82.59,453.07 84.25,453.66 C85.90,454.25 87.55,454.89 89.20,455.55 C90.86,456.22 92.51,456.92 94.16,457.65 C95.81,458.37 97.47,459.12 99.12,459.88 C100.77,460.64 102.42,461.43 104.08,462.21 C105.73,462.99 107.38,463.79 109.03,464.57 C110.69,465.35 112.34,466.14 113.99,466.91 C115.64,467.68 117.30,468.44 118.95,469.18 C120.60,469.91 122.25,470.63 123.91,471.32 C125.56,472.00 127.21,472.66 128.86,473.28 C130.52,473.89 132.17,474.48 133.82,475.01 C135.47,475.54 137.12,476.04 138.78,476.48 C140.43,476.91 142.08,477.31 143.74,477.64 C145.39,477.96 147.04,478.24 148.69,478.45 C150.34,478.66 152.00,478.81 153.65,478.90 C155.30,478.98 156.96,479.00 158.61,478.95 C160.26,478.90 161.91,478.79 163.56,478.60 C165.22,478.41 166.87,478.16 168.52,477.84 C170.18,477.51 171.83,477.12 173.48,476.66 C175.13,476.20 176.78,475.67 178.44,475.08 C180.09,474.50 181.74,473.84 183.40,473.13 C185.05,472.42 186.70,471.65 188.35,470.83 C190.01,470.01 191.66,469.13 193.31,468.22 C194.96,467.31 196.62,466.35 198.27,465.37 C199.92,464.39 201.57,463.36 203.22,462.34 C204.88,461.31 206.53,460.25 208.18,459.20 C209.84,458.16 211.49,457.10 213.14,456.07 C214.79,455.04 216.44,454.01 218.10,453.04 C219.75,452.07 221.40,451.12 223.06,450.25 C224.71,449.38 226.36,448.54 228.01,447.83 C229.67,447.11 231.32,446.45 232.97,445.94 C234.62,445.43 236.28,445.01 237.93,444.77 C239.58,444.53 241.23,444.40 242.89,444.50 C244.54,444.60 246.19,444.84 247.84,445.35 C249.50,445.86 251.97,447.19 252.80,447.56" fill="none" stroke="#FF0000" stroke-width="1.20" stroke-dasharray="5,2.6" clip-path="url(#clipc)"/><path d="M54.50,461.30 C55.33,461.07 57.80,460.38 59.46,459.91 C61.11,459.45 62.76,458.98 64.42,458.50 C66.07,458.02 67.72,457.54 69.37,457.03 C71.03,456.52 72.68,456.00 74.33,455.46 C75.98,454.91 77.63,454.35 79.29,453.76 C80.94,453.17 82.59,452.56 84.25,451.92 C85.90,451.28 87.55,450.62 89.20,449.93 C90.86,449.24 92.51,448.53 94.16,447.79 C95.81,447.05 97.47,446.28 99.12,445.50 C100.77,444.71 102.42,443.90 104.08,443.07 C105.73,442.24 107.38,441.39 109.03,440.53 C110.69,439.66 112.34,438.78 113.99,437.89 C115.64,436.99 117.30,436.09 118.95,435.18 C120.60,434.26 122.25,433.34 123.91,432.42 C125.56,431.51 127.21,430.58 128.86,429.67 C130.52,428.75 132.17,427.83 133.82,426.94 C135.47,426.04 137.12,425.14 138.78,424.28 C140.43,423.41 142.08,422.55 143.74,421.72 C145.39,420.89 147.04,420.09 148.69,419.31 C150.34,418.54 152.00,417.80 153.65,417.10 C155.30,416.40 156.96,415.73 158.61,415.11 C160.26,414.49 161.91,413.91 163.56,413.38 C165.22,412.86 166.87,412.38 168.52,411.97 C170.18,411.55 171.83,411.19 173.48,410.89 C175.13,410.59 176.78,410.36 178.44,410.19 C180.09,410.02 181.74,409.92 183.40,409.89 C185.05,409.86 186.70,409.90 188.35,410.02 C190.01,410.14 191.66,410.33 193.31,410.60 C194.96,410.87 196.62,411.22 198.27,411.64 C199.92,412.07 201.57,412.58 203.22,413.17 C204.88,413.75 206.53,414.42 208.18,415.17 C209.84,415.91 211.49,416.74 213.14,417.64 C214.79,418.55 216.44,419.53 218.10,420.58 C219.75,421.64 221.40,422.77 223.06,423.97 C224.71,425.17 226.36,426.45 228.01,427.78 C229.67,429.11 231.32,430.52 232.97,431.97 C234.62,433.43 236.28,434.94 237.93,436.50 C239.58,438.05 241.23,439.67 242.89,441.30 C244.54,442.94 246.19,444.62 247.84,446.32 C249.50,448.01 251.97,450.60 252.80,451.46" fill="none" stroke="#00B0F0" stroke-width="1.20" stroke-dasharray="5,2.6" clip-path="url(#clipc)"/><path d="M54.50,497.90 C55.33,497.68 57.80,497.12 59.46,496.63 C61.11,496.13 62.76,495.56 64.42,494.94 C66.07,494.32 67.72,493.63 69.37,492.90 C71.03,492.17 72.68,491.38 74.33,490.56 C75.98,489.74 77.63,488.87 79.29,487.98 C80.94,487.09 82.59,486.16 84.25,485.21 C85.90,484.26 87.55,483.28 89.20,482.29 C90.86,481.30 92.51,480.29 94.16,479.27 C95.81,478.26 97.47,477.22 99.12,476.19 C100.77,475.16 102.42,474.12 104.08,473.09 C105.73,472.05 107.38,471.02 109.03,469.99 C110.69,468.97 112.34,467.94 113.99,466.93 C115.64,465.93 117.30,464.92 118.95,463.94 C120.60,462.96 122.25,461.99 123.91,461.05 C125.56,460.10 127.21,459.17 128.86,458.26 C130.52,457.36 132.17,456.47 133.82,455.61 C135.47,454.75 137.12,453.92 138.78,453.11 C140.43,452.31 142.08,451.53 143.74,450.78 C145.39,450.03 147.04,449.31 148.69,448.63 C150.34,447.94 152.00,447.28 153.65,446.66 C155.30,446.04 156.96,445.45 158.61,444.90 C160.26,444.34 161.91,443.82 163.56,443.34 C165.22,442.85 166.87,442.40 168.52,441.99 C170.18,441.58 171.83,441.20 173.48,440.86 C175.13,440.52 176.78,440.21 178.44,439.94 C180.09,439.67 181.74,439.44 183.40,439.24 C185.05,439.05 186.70,438.89 188.35,438.76 C190.01,438.64 191.66,438.55 193.31,438.50 C194.96,438.45 196.62,438.43 198.27,438.45 C199.92,438.47 201.57,438.52 203.22,438.61 C204.88,438.70 206.53,438.82 208.18,438.97 C209.84,439.13 211.49,439.32 213.14,439.54 C214.79,439.77 216.44,440.02 218.10,440.31 C219.75,440.59 221.40,440.91 223.06,441.26 C224.71,441.61 226.36,441.99 228.01,442.40 C229.67,442.81 231.32,443.26 232.97,443.72 C234.62,444.19 236.28,444.69 237.93,445.22 C239.58,445.74 241.23,446.30 242.89,446.88 C244.54,447.46 246.19,448.06 247.84,448.70 C249.50,449.33 251.97,450.34 252.80,450.67" fill="none" stroke="#ED7D31" stroke-width="1.20" stroke-dasharray="5,2.6" clip-path="url(#clipc)"/><path d="M54.50,501.89 C55.33,501.93 57.80,502.03 59.46,502.09 C61.11,502.15 62.76,502.20 64.42,502.25 C66.07,502.29 67.72,502.33 69.37,502.36 C71.03,502.39 72.68,502.42 74.33,502.43 C75.98,502.44 77.63,502.45 79.29,502.44 C80.94,502.43 82.59,502.42 84.25,502.39 C85.90,502.36 87.55,502.32 89.20,502.27 C90.86,502.22 92.51,502.15 94.16,502.07 C95.81,501.99 97.47,501.90 99.12,501.79 C100.77,501.69 102.42,501.56 104.08,501.43 C105.73,501.29 107.38,501.13 109.03,500.96 C110.69,500.79 112.34,500.60 113.99,500.40 C115.64,500.19 117.30,499.97 118.95,499.73 C120.60,499.49 122.25,499.23 123.91,498.96 C125.56,498.68 127.21,498.39 128.86,498.07 C130.52,497.76 132.17,497.43 133.82,497.08 C135.47,496.73 137.12,496.37 138.78,495.98 C140.43,495.60 142.08,495.20 143.74,494.78 C145.39,494.37 147.04,493.94 148.69,493.49 C150.34,493.04 152.00,492.58 153.65,492.11 C155.30,491.64 156.96,491.15 158.61,490.65 C160.26,490.16 161.91,489.65 163.56,489.14 C165.22,488.63 166.87,488.10 168.52,487.58 C170.18,487.06 171.83,486.53 173.48,486.00 C175.13,485.48 176.78,484.95 178.44,484.43 C180.09,483.91 181.74,483.39 183.40,482.89 C185.05,482.39 186.70,481.89 188.35,481.42 C190.01,480.94 191.66,480.48 193.31,480.04 C194.96,479.61 196.62,479.19 198.27,478.81 C199.92,478.44 201.57,478.08 203.22,477.77 C204.88,477.47 206.53,477.19 208.18,476.97 C209.84,476.76 211.49,476.58 213.14,476.47 C214.79,476.36 216.44,476.30 218.10,476.32 C219.75,476.34 221.40,476.42 223.06,476.59 C224.71,476.77 226.36,477.01 228.01,477.36 C229.67,477.71 231.32,478.15 232.97,478.70 C234.62,479.26 236.28,479.91 237.93,480.70 C239.58,481.49 241.23,482.39 242.89,483.45 C244.54,484.50 246.19,485.68 247.84,487.04 C249.50,488.39 251.97,490.82 252.80,491.57" fill="none" stroke="#ED7D31" stroke-width="1.20" stroke-dasharray="5,2.6" clip-path="url(#clipc)"/><path d="M54.50,505.03 C55.33,504.64 57.80,503.31 59.46,502.69 C61.11,502.08 62.76,501.67 64.42,501.35 C66.07,501.02 67.72,500.86 69.37,500.74 C71.03,500.63 72.68,500.63 74.33,500.66 C75.98,500.69 77.63,500.79 79.29,500.90 C80.94,501.01 82.59,501.17 84.25,501.31 C85.90,501.45 87.55,501.61 89.20,501.75 C90.86,501.88 92.51,502.01 94.16,502.10 C95.81,502.18 97.47,502.25 99.12,502.27 C100.77,502.29 102.42,502.28 104.08,502.21 C105.73,502.14 107.38,502.02 109.03,501.85 C110.69,501.68 112.34,501.46 113.99,501.18 C115.64,500.90 117.30,500.57 118.95,500.18 C120.60,499.79 122.25,499.34 123.91,498.85 C125.56,498.35 127.21,497.80 128.86,497.21 C130.52,496.61 132.17,495.96 133.82,495.28 C135.47,494.60 137.12,493.87 138.78,493.11 C140.43,492.35 142.08,491.55 143.74,490.74 C145.39,489.92 147.04,489.07 148.69,488.22 C150.34,487.37 152.00,486.49 153.65,485.61 C155.30,484.74 156.96,483.86 158.61,482.98 C160.26,482.11 161.91,481.24 163.56,480.39 C165.22,479.55 166.87,478.71 168.52,477.91 C170.18,477.11 171.83,476.32 173.48,475.59 C175.13,474.85 176.78,474.15 178.44,473.50 C180.09,472.85 181.74,472.23 183.40,471.69 C185.05,471.14 186.70,470.64 188.35,470.21 C190.01,469.78 191.66,469.41 193.31,469.11 C194.96,468.81 196.62,468.58 198.27,468.42 C199.92,468.26 201.57,468.17 203.22,468.15 C204.88,468.14 206.53,468.19 208.18,468.32 C209.84,468.45 211.49,468.66 213.14,468.93 C214.79,469.19 216.44,469.54 218.10,469.94 C219.75,470.34 221.40,470.81 223.06,471.32 C224.71,471.83 226.36,472.41 228.01,473.01 C229.67,473.62 231.32,474.28 232.97,474.94 C234.62,475.60 236.28,476.31 237.93,476.99 C239.58,477.68 241.23,478.39 242.89,479.05 C244.54,479.71 246.19,480.38 247.84,480.96 C249.50,481.54 251.97,482.28 252.80,482.54" fill="none" stroke="#7030A0" stroke-width="1.20" stroke-dasharray="5,2.6" clip-path="url(#clipc)"/><path d="M54.50,507.00 C57.80,507.15 67.72,507.90 74.33,507.90 C80.94,507.90 87.55,507.30 94.16,507.00 C100.77,506.70 107.38,506.55 113.99,506.10 C120.60,505.65 127.21,505.05 133.82,504.29 C140.43,503.54 147.04,503.17 153.65,501.59 C160.26,500.01 166.87,497.68 173.48,494.82 C180.09,491.97 186.70,487.61 193.31,484.45 C199.92,481.29 206.53,476.78 213.14,475.88 C219.75,474.98 226.36,474.75 232.97,479.04 C239.58,483.32 249.50,497.83 252.80,501.59" fill="none" stroke="#595959" stroke-width="1.20" stroke-dasharray="5,2.6" clip-path="url(#clipc)"/><rect x="314.28" y="458.93" width="5.04" height="5.04" fill="#0070C0"/><rect x="334.10" y="448.56" width="5.04" height="5.04" fill="#0070C0"/><rect x="353.92" y="444.05" width="5.04" height="5.04" fill="#0070C0"/><rect x="373.74" y="434.58" width="5.04" height="5.04" fill="#0070C0"/><rect x="393.56" y="425.56" width="5.04" height="5.04" fill="#0070C0"/><rect x="413.38" y="414.73" width="5.04" height="5.04" fill="#0070C0"/><rect x="433.20" y="405.26" width="5.04" height="5.04" fill="#0070C0"/><rect x="453.02" y="407.06" width="5.04" height="5.04" fill="#0070C0"/><rect x="472.84" y="414.73" width="5.04" height="5.04" fill="#0070C0"/><rect x="492.66" y="435.48" width="5.04" height="5.04" fill="#0070C0"/><rect x="512.48" y="448.11" width="5.04" height="5.04" fill="#0070C0"/><path d="M316.80,500.25 L321.30,509.25 L312.30,509.25 Z" fill="#7030A0"/><path d="M336.62,497.09 L341.12,506.09 L332.12,506.09 Z" fill="#7030A0"/><path d="M356.44,497.09 L360.94,506.09 L351.94,506.09 Z" fill="#7030A0"/><path d="M376.26,495.74 L380.76,504.74 L371.76,504.74 Z" fill="#7030A0"/><path d="M396.08,491.23 L400.58,500.23 L391.58,500.23 Z" fill="#7030A0"/><path d="M415.90,482.66 L420.40,491.66 L411.40,491.66 Z" fill="#7030A0"/><path d="M435.72,469.13 L440.22,478.13 L431.22,478.13 Z" fill="#7030A0"/><path d="M455.54,466.42 L460.04,475.42 L451.04,475.42 Z" fill="#7030A0"/><path d="M475.36,462.36 L479.86,471.36 L470.86,471.36 Z" fill="#7030A0"/><path d="M495.18,471.83 L499.68,480.83 L490.68,480.83 Z" fill="#7030A0"/><path d="M515.00,477.69 L519.50,486.69 L510.50,486.69 Z" fill="#7030A0"/><path d="M316.80,497.64 L321.20,502.04 L316.80,506.44 L312.40,502.04 Z" fill="#00B050"/><path d="M336.62,497.64 L341.02,502.04 L336.62,506.44 L332.22,502.04 Z" fill="#00B050"/><path d="M356.44,497.64 L360.84,502.04 L356.44,506.44 L352.04,502.04 Z" fill="#00B050"/><path d="M376.26,496.74 L380.66,501.14 L376.26,505.54 L371.86,501.14 Z" fill="#00B050"/><path d="M396.08,492.68 L400.48,497.08 L396.08,501.48 L391.68,497.08 Z" fill="#00B050"/><path d="M415.90,486.81 L420.30,491.21 L415.90,495.61 L411.50,491.21 Z" fill="#00B050"/><path d="M435.72,481.40 L440.12,485.80 L435.72,490.20 L431.32,485.80 Z" fill="#00B050"/><path d="M455.54,476.89 L459.94,481.29 L455.54,485.69 L451.14,481.29 Z" fill="#00B050"/><path d="M475.36,471.48 L479.76,475.88 L475.36,480.28 L470.96,475.88 Z" fill="#00B050"/><path d="M495.18,474.19 L499.58,478.59 L495.18,482.99 L490.78,478.59 Z" fill="#00B050"/><path d="M515.00,487.27 L519.40,491.67 L515.00,496.07 L510.60,491.67 Z" fill="#00B050"/><path d="M316.80,461.30 C317.63,461.07 320.10,460.38 321.75,459.91 C323.41,459.45 325.06,458.98 326.71,458.50 C328.36,458.02 330.01,457.54 331.67,457.03 C333.32,456.52 334.97,456.00 336.62,455.46 C338.27,454.91 339.92,454.35 341.57,453.76 C343.23,453.17 344.88,452.56 346.53,451.92 C348.18,451.28 349.83,450.62 351.49,449.93 C353.14,449.24 354.79,448.53 356.44,447.79 C358.09,447.05 359.74,446.28 361.39,445.50 C363.05,444.71 364.70,443.90 366.35,443.07 C368.00,442.24 369.65,441.39 371.31,440.53 C372.96,439.66 374.61,438.78 376.26,437.89 C377.91,436.99 379.56,436.09 381.22,435.18 C382.87,434.26 384.52,433.34 386.17,432.42 C387.82,431.51 389.47,430.58 391.12,429.67 C392.78,428.75 394.43,427.83 396.08,426.94 C397.73,426.04 399.38,425.14 401.04,424.28 C402.69,423.41 404.34,422.55 405.99,421.72 C407.64,420.89 409.29,420.09 410.94,419.31 C412.60,418.54 414.25,417.80 415.90,417.10 C417.55,416.40 419.20,415.73 420.86,415.11 C422.51,414.49 424.16,413.91 425.81,413.38 C427.46,412.86 429.11,412.38 430.76,411.97 C432.42,411.55 434.07,411.19 435.72,410.89 C437.37,410.59 439.02,410.36 440.68,410.19 C442.33,410.02 443.98,409.92 445.63,409.89 C447.28,409.86 448.93,409.90 450.59,410.02 C452.24,410.14 453.89,410.33 455.54,410.60 C457.19,410.87 458.84,411.22 460.50,411.64 C462.15,412.07 463.80,412.58 465.45,413.17 C467.10,413.75 468.75,414.42 470.40,415.17 C472.06,415.91 473.71,416.74 475.36,417.64 C477.01,418.55 478.66,419.53 480.31,420.58 C481.97,421.64 483.62,422.77 485.27,423.97 C486.92,425.17 488.57,426.45 490.23,427.78 C491.88,429.11 493.53,430.52 495.18,431.97 C496.83,433.43 498.48,434.94 500.13,436.50 C501.79,438.05 503.44,439.67 505.09,441.30 C506.74,442.94 508.39,444.62 510.05,446.32 C511.70,448.01 514.17,450.60 515.00,451.46" fill="none" stroke="#4FA3DE" stroke-width="1.20" stroke-dasharray="5,2.6" clip-path="url(#clipd)"/><path d="M316.80,505.03 C317.63,504.64 320.10,503.31 321.75,502.69 C323.41,502.08 325.06,501.67 326.71,501.35 C328.36,501.02 330.01,500.86 331.67,500.74 C333.32,500.63 334.97,500.63 336.62,500.66 C338.27,500.69 339.92,500.79 341.57,500.90 C343.23,501.01 344.88,501.17 346.53,501.31 C348.18,501.45 349.83,501.61 351.49,501.75 C353.14,501.88 354.79,502.01 356.44,502.10 C358.09,502.18 359.74,502.25 361.39,502.27 C363.05,502.29 364.70,502.28 366.35,502.21 C368.00,502.14 369.65,502.02 371.31,501.85 C372.96,501.68 374.61,501.46 376.26,501.18 C377.91,500.90 379.56,500.57 381.22,500.18 C382.87,499.79 384.52,499.34 386.17,498.85 C387.82,498.35 389.47,497.80 391.12,497.21 C392.78,496.61 394.43,495.96 396.08,495.28 C397.73,494.60 399.38,493.87 401.04,493.11 C402.69,492.35 404.34,491.55 405.99,490.74 C407.64,489.92 409.29,489.07 410.94,488.22 C412.60,487.37 414.25,486.49 415.90,485.61 C417.55,484.74 419.20,483.86 420.86,482.98 C422.51,482.11 424.16,481.24 425.81,480.39 C427.46,479.55 429.11,478.71 430.76,477.91 C432.42,477.11 434.07,476.32 435.72,475.59 C437.37,474.85 439.02,474.15 440.68,473.50 C442.33,472.85 443.98,472.23 445.63,471.69 C447.28,471.14 448.93,470.64 450.59,470.21 C452.24,469.78 453.89,469.41 455.54,469.11 C457.19,468.81 458.84,468.58 460.50,468.42 C462.15,468.26 463.80,468.17 465.45,468.15 C467.10,468.14 468.75,468.19 470.40,468.32 C472.06,468.45 473.71,468.66 475.36,468.93 C477.01,469.19 478.66,469.54 480.31,469.94 C481.97,470.34 483.62,470.81 485.27,471.32 C486.92,471.83 488.57,472.41 490.23,473.01 C491.88,473.62 493.53,474.28 495.18,474.94 C496.83,475.60 498.48,476.31 500.13,476.99 C501.79,477.68 503.44,478.39 505.09,479.05 C506.74,479.71 508.39,480.38 510.05,480.96 C511.70,481.54 514.17,482.28 515.00,482.54" fill="none" stroke="#7030A0" stroke-width="1.20" stroke-dasharray="5,2.6" clip-path="url(#clipd)"/><path d="M316.80,501.89 C317.63,501.93 320.10,502.03 321.75,502.09 C323.41,502.15 325.06,502.20 326.71,502.25 C328.36,502.29 330.01,502.33 331.67,502.36 C333.32,502.39 334.97,502.42 336.62,502.43 C338.27,502.44 339.92,502.45 341.57,502.44 C343.23,502.43 344.88,502.42 346.53,502.39 C348.18,502.36 349.83,502.32 351.49,502.27 C353.14,502.22 354.79,502.15 356.44,502.07 C358.09,501.99 359.74,501.90 361.39,501.79 C363.05,501.69 364.70,501.56 366.35,501.43 C368.00,501.29 369.65,501.13 371.31,500.96 C372.96,500.79 374.61,500.60 376.26,500.40 C377.91,500.19 379.56,499.97 381.22,499.73 C382.87,499.49 384.52,499.23 386.17,498.96 C387.82,498.68 389.47,498.39 391.12,498.07 C392.78,497.76 394.43,497.43 396.08,497.08 C397.73,496.73 399.38,496.37 401.04,495.98 C402.69,495.60 404.34,495.20 405.99,494.78 C407.64,494.37 409.29,493.94 410.94,493.49 C412.60,493.04 414.25,492.58 415.90,492.11 C417.55,491.64 419.20,491.15 420.86,490.65 C422.51,490.16 424.16,489.65 425.81,489.14 C427.46,488.63 429.11,488.10 430.76,487.58 C432.42,487.06 434.07,486.53 435.72,486.00 C437.37,485.48 439.02,484.95 440.68,484.43 C442.33,483.91 443.98,483.39 445.63,482.89 C447.28,482.39 448.93,481.89 450.59,481.42 C452.24,480.94 453.89,480.48 455.54,480.04 C457.19,479.61 458.84,479.19 460.50,478.81 C462.15,478.44 463.80,478.08 465.45,477.77 C467.10,477.47 468.75,477.19 470.40,476.97 C472.06,476.76 473.71,476.58 475.36,476.47 C477.01,476.36 478.66,476.30 480.31,476.32 C481.97,476.34 483.62,476.42 485.27,476.59 C486.92,476.77 488.57,477.01 490.23,477.36 C491.88,477.71 493.53,478.15 495.18,478.70 C496.83,479.26 498.48,479.91 500.13,480.70 C501.79,481.49 503.44,482.39 505.09,483.45 C506.74,484.50 508.39,485.68 510.05,487.04 C511.70,488.39 514.17,490.82 515.00,491.57" fill="none" stroke="#00B050" stroke-width="1.20" stroke-dasharray="5,2.6" clip-path="url(#clipd)"/><line x1="54.00" y1="236.90" x2="253.30" y2="236.90" stroke="#4a4a4a" stroke-width="1.9"/><line x1="50.50" y1="236.90" x2="54.50" y2="236.90" stroke="#262626" stroke-width="1"/><text x="43.00" y="240.00" class="tk" text-anchor="end">0.0</text><line x1="50.50" y1="192.02" x2="54.50" y2="192.02" stroke="#262626" stroke-width="1"/><text x="43.00" y="195.12" class="tk" text-anchor="end">0.2</text><line x1="50.50" y1="147.14" x2="54.50" y2="147.14" stroke="#262626" stroke-width="1"/><text x="43.00" y="150.24" class="tk" text-anchor="end">0.4</text><line x1="50.50" y1="102.26" x2="54.50" y2="102.26" stroke="#262626" stroke-width="1"/><text x="43.00" y="105.36" class="tk" text-anchor="end">0.6</text><line x1="50.50" y1="57.38" x2="54.50" y2="57.38" stroke="#262626" stroke-width="1"/><text x="43.00" y="60.48" class="tk" text-anchor="end">0.8</text><line x1="50.50" y1="12.50" x2="54.50" y2="12.50" stroke="#262626" stroke-width="1"/><text x="43.00" y="15.60" class="tk" text-anchor="end">1.0</text><line x1="54.50" y1="236.90" x2="54.50" y2="241.80" stroke="#262626" stroke-width="1"/><text x="54.50" y="256.00" class="tk" text-anchor="middle">100</text><line x1="94.16" y1="236.90" x2="94.16" y2="241.80" stroke="#262626" stroke-width="1"/><text x="94.16" y="256.00" class="tk" text-anchor="middle">140</text><line x1="133.82" y1="236.90" x2="133.82" y2="241.80" stroke="#262626" stroke-width="1"/><text x="133.82" y="256.00" class="tk" text-anchor="middle">180</text><line x1="173.48" y1="236.90" x2="173.48" y2="241.80" stroke="#262626" stroke-width="1"/><text x="173.48" y="256.00" class="tk" text-anchor="middle">220</text><line x1="213.14" y1="236.90" x2="213.14" y2="241.80" stroke="#262626" stroke-width="1"/><text x="213.14" y="256.00" class="tk" text-anchor="middle">260</text><line x1="252.80" y1="236.90" x2="252.80" y2="241.80" stroke="#262626" stroke-width="1"/><text x="252.80" y="256.00" class="tk" text-anchor="middle">300</text><line x1="316.30" y1="236.90" x2="515.50" y2="236.90" stroke="#4a4a4a" stroke-width="1.9"/><line x1="312.80" y1="236.90" x2="316.80" y2="236.90" stroke="#262626" stroke-width="1"/><text x="305.30" y="240.00" class="tk" text-anchor="end">0.0</text><line x1="312.80" y1="192.02" x2="316.80" y2="192.02" stroke="#262626" stroke-width="1"/><text x="305.30" y="195.12" class="tk" text-anchor="end">0.2</text><line x1="312.80" y1="147.14" x2="316.80" y2="147.14" stroke="#262626" stroke-width="1"/><text x="305.30" y="150.24" class="tk" text-anchor="end">0.4</text><line x1="312.80" y1="102.26" x2="316.80" y2="102.26" stroke="#262626" stroke-width="1"/><text x="305.30" y="105.36" class="tk" text-anchor="end">0.6</text><line x1="312.80" y1="57.38" x2="316.80" y2="57.38" stroke="#262626" stroke-width="1"/><text x="305.30" y="60.48" class="tk" text-anchor="end">0.8</text><line x1="312.80" y1="12.50" x2="316.80" y2="12.50" stroke="#262626" stroke-width="1"/><text x="305.30" y="15.60" class="tk" text-anchor="end">1.0</text><line x1="316.80" y1="236.90" x2="316.80" y2="241.80" stroke="#262626" stroke-width="1"/><text x="316.80" y="256.00" class="tk" text-anchor="middle">100</text><line x1="356.44" y1="236.90" x2="356.44" y2="241.80" stroke="#262626" stroke-width="1"/><text x="356.44" y="256.00" class="tk" text-anchor="middle">140</text><line x1="396.08" y1="236.90" x2="396.08" y2="241.80" stroke="#262626" stroke-width="1"/><text x="396.08" y="256.00" class="tk" text-anchor="middle">180</text><line x1="435.72" y1="236.90" x2="435.72" y2="241.80" stroke="#262626" stroke-width="1"/><text x="435.72" y="256.00" class="tk" text-anchor="middle">220</text><line x1="475.36" y1="236.90" x2="475.36" y2="241.80" stroke="#262626" stroke-width="1"/><text x="475.36" y="256.00" class="tk" text-anchor="middle">260</text><line x1="515.00" y1="236.90" x2="515.00" y2="241.80" stroke="#262626" stroke-width="1"/><text x="515.00" y="256.00" class="tk" text-anchor="middle">300</text><line x1="54.00" y1="507.00" x2="253.30" y2="507.00" stroke="#4a4a4a" stroke-width="1.9"/><line x1="50.50" y1="507.00" x2="54.50" y2="507.00" stroke="#262626" stroke-width="1"/><text x="43.00" y="510.10" class="tk" text-anchor="end">0.0</text><line x1="50.50" y1="461.90" x2="54.50" y2="461.90" stroke="#262626" stroke-width="1"/><text x="43.00" y="465.00" class="tk" text-anchor="end">0.1</text><line x1="50.50" y1="416.80" x2="54.50" y2="416.80" stroke="#262626" stroke-width="1"/><text x="43.00" y="419.90" class="tk" text-anchor="end">0.2</text><line x1="50.50" y1="371.70" x2="54.50" y2="371.70" stroke="#262626" stroke-width="1"/><text x="43.00" y="374.80" class="tk" text-anchor="end">0.3</text><line x1="50.50" y1="326.60" x2="54.50" y2="326.60" stroke="#262626" stroke-width="1"/><text x="43.00" y="329.70" class="tk" text-anchor="end">0.4</text><line x1="50.50" y1="281.50" x2="54.50" y2="281.50" stroke="#262626" stroke-width="1"/><text x="43.00" y="284.60" class="tk" text-anchor="end">0.5</text><line x1="54.50" y1="507.00" x2="54.50" y2="511.90" stroke="#262626" stroke-width="1"/><text x="54.50" y="524.90" class="tk" text-anchor="middle">100</text><line x1="94.16" y1="507.00" x2="94.16" y2="511.90" stroke="#262626" stroke-width="1"/><text x="94.16" y="524.90" class="tk" text-anchor="middle">140</text><line x1="133.82" y1="507.00" x2="133.82" y2="511.90" stroke="#262626" stroke-width="1"/><text x="133.82" y="524.90" class="tk" text-anchor="middle">180</text><line x1="173.48" y1="507.00" x2="173.48" y2="511.90" stroke="#262626" stroke-width="1"/><text x="173.48" y="524.90" class="tk" text-anchor="middle">220</text><line x1="213.14" y1="507.00" x2="213.14" y2="511.90" stroke="#262626" stroke-width="1"/><text x="213.14" y="524.90" class="tk" text-anchor="middle">260</text><line x1="252.80" y1="507.00" x2="252.80" y2="511.90" stroke="#262626" stroke-width="1"/><text x="252.80" y="524.90" class="tk" text-anchor="middle">300</text><line x1="316.30" y1="507.00" x2="515.50" y2="507.00" stroke="#4a4a4a" stroke-width="1.9"/><line x1="312.80" y1="507.00" x2="316.80" y2="507.00" stroke="#262626" stroke-width="1"/><text x="305.30" y="510.10" class="tk" text-anchor="end">0.0</text><line x1="312.80" y1="461.90" x2="316.80" y2="461.90" stroke="#262626" stroke-width="1"/><text x="305.30" y="465.00" class="tk" text-anchor="end">0.1</text><line x1="312.80" y1="416.80" x2="316.80" y2="416.80" stroke="#262626" stroke-width="1"/><text x="305.30" y="419.90" class="tk" text-anchor="end">0.2</text><line x1="312.80" y1="371.70" x2="316.80" y2="371.70" stroke="#262626" stroke-width="1"/><text x="305.30" y="374.80" class="tk" text-anchor="end">0.3</text><line x1="312.80" y1="326.60" x2="316.80" y2="326.60" stroke="#262626" stroke-width="1"/><text x="305.30" y="329.70" class="tk" text-anchor="end">0.4</text><line x1="312.80" y1="281.50" x2="316.80" y2="281.50" stroke="#262626" stroke-width="1"/><text x="305.30" y="284.60" class="tk" text-anchor="end">0.5</text><line x1="316.80" y1="507.00" x2="316.80" y2="511.90" stroke="#262626" stroke-width="1"/><text x="316.80" y="524.90" class="tk" text-anchor="middle">100</text><line x1="356.44" y1="507.00" x2="356.44" y2="511.90" stroke="#262626" stroke-width="1"/><text x="356.44" y="524.90" class="tk" text-anchor="middle">140</text><line x1="396.08" y1="507.00" x2="396.08" y2="511.90" stroke="#262626" stroke-width="1"/><text x="396.08" y="524.90" class="tk" text-anchor="middle">180</text><line x1="435.72" y1="507.00" x2="435.72" y2="511.90" stroke="#262626" stroke-width="1"/><text x="435.72" y="524.90" class="tk" text-anchor="middle">220</text><line x1="475.36" y1="507.00" x2="475.36" y2="511.90" stroke="#262626" stroke-width="1"/><text x="475.36" y="524.90" class="tk" text-anchor="middle">260</text><line x1="515.00" y1="507.00" x2="515.00" y2="511.90" stroke="#262626" stroke-width="1"/><text x="515.00" y="524.90" class="tk" text-anchor="middle">300</text><text x="59.5" y="27.8" class="pl">(a)</text><text x="321" y="27.8" class="pl">(b)</text><text x="59.5" y="297" class="pl">(c)</text><text x="320" y="297" class="pl">(d)</text><text transform="translate(21.10,124.30) rotate(-90)" class="ax" text-anchor="middle">mol CO<tspan class="sbx" dy="3">2</tspan><tspan dy="-3"> produced/mol C inlet</tspan></text><text x="153.65" y="270.50" class="ax" text-anchor="middle">T (°C)</text><text transform="translate(280.60,117.10) rotate(-90)" class="ax" text-anchor="middle">mol CO<tspan class="sbx" dy="3">2</tspan><tspan dy="-3"> produced/mol C inlet</tspan></text><text x="415.90" y="270.50" class="ax" text-anchor="middle">T (°C)</text><text transform="translate(21.30,393.30) rotate(-90)" class="ax" text-anchor="middle">mol CH<tspan class="sbx" dy="3">4</tspan><tspan dy="-3"> produced/mol C inlet</tspan></text><text x="153.65" y="540.60" class="ax" text-anchor="middle">T (°C)</text><text transform="translate(281.80,393.10) rotate(-90)" class="ax" text-anchor="middle">mol CH<tspan class="sbx" dy="3">4</tspan><tspan dy="-3"> produced/mol C inlet</tspan></text><text x="415.90" y="540.60" class="ax" text-anchor="middle">T (°C)</text><circle cx="79.70" cy="43.10" r="2.70" fill="#FF0000"/><text x="85.80" y="47.70" class="lg">AuCu/CeO<tspan class="sb" dy="2.9">2</tspan><tspan dy="-2.9"></tspan></text><path d="M79.70,53.76 L83.84,62.04 L75.56,62.04 Z" fill="#7030A0"/><text x="85.80" y="62.50" class="lg">AuCu/SiO<tspan class="sb" dy="2.9">2</tspan><tspan dy="-2.9"></tspan></text><rect x="77.04" y="70.04" width="5.32" height="5.32" fill="#00B0F0"/><text x="85.80" y="77.30" class="lg">AuCu/ZrO<tspan class="sb" dy="2.9">2</tspan><tspan dy="-2.9"></tspan></text><path d="M172.10,38.82 L176.28,43.00 L172.10,47.18 L167.92,43.00 Z" fill="#00B050"/><text x="177.30" y="46.60" class="lg">AuCu/Al<tspan class="sb" dy="2.9">2</tspan><tspan dy="-2.9">O</tspan><tspan class="sb" dy="2.9">3</tspan><tspan dy="-2.9"></tspan></text><path d="M168.60,55.00 L175.60,60.60 M168.60,60.60 L175.60,55.00 M172.10,54.30 L172.10,61.30" stroke="#ED7D31" stroke-width="1.3" fill="none"/><text x="177.30" y="61.40" class="lg">AuCu/La<tspan class="sb" dy="2.9">2</tspan><tspan dy="-2.9">O</tspan><tspan class="sb" dy="2.9">3</tspan><tspan dy="-2.9"></tspan></text><path d="M168.80,72.60 L175.40,72.60 M172.10,69.30 L172.10,75.90" stroke="#404040" stroke-width="1.2" fill="none"/><text x="177.30" y="76.20" class="lg">AuCu/Fe<tspan class="sb" dy="2.9">2</tspan><tspan dy="-2.9">O</tspan><tspan class="sb" dy="2.9">3</tspan><tspan dy="-2.9"></tspan></text><path d="M400.80,188.45 L404.85,196.55 L396.75,196.55 Z" fill="#7030A0"/><text x="405.00" y="197.00" class="lg">AuCu/CeO<tspan class="sb" dy="2.9">2</tspan><tspan dy="-2.9">-SiO</tspan><tspan class="sb" dy="2.9">2</tspan><tspan dy="-2.9"></tspan></text><rect x="398.28" y="204.58" width="5.04" height="5.04" fill="#0070C0"/><text x="405.00" y="211.60" class="lg">AuCu/CeO<tspan class="sb" dy="2.9">2</tspan><tspan dy="-2.9">-ZrO</tspan><tspan class="sb" dy="2.9">2</tspan><tspan dy="-2.9"></tspan></text><path d="M400.80,217.52 L404.98,221.70 L400.80,225.88 L396.62,221.70 Z" fill="#00B050"/><text x="405.00" y="226.20" class="lg">AuCu/CeO<tspan class="sb" dy="2.9">2</tspan><tspan dy="-2.9">-Al</tspan><tspan class="sb" dy="2.9">2</tspan><tspan dy="-2.9">O</tspan><tspan class="sb" dy="2.9">3</tspan><tspan dy="-2.9"></tspan></text><circle cx="169.20" cy="296.90" r="2.85" fill="#FF0000"/><text x="174.80" y="301.50" class="lg">AuCu/CeO<tspan class="sb" dy="2.9">2</tspan><tspan dy="-2.9"></tspan></text><path d="M169.20,307.32 L173.38,311.50 L169.20,315.68 L165.02,311.50 Z" fill="#00B050"/><text x="174.80" y="316.10" class="lg">AuCu/SiO<tspan class="sb" dy="2.9">2</tspan><tspan dy="-2.9"></tspan></text><path d="M169.20,321.96 L173.34,330.24 L165.06,330.24 Z" fill="#7030A0"/><text x="174.80" y="330.70" class="lg">AuCu/ZrO<tspan class="sb" dy="2.9">2</tspan><tspan dy="-2.9"></tspan></text><path d="M166.22,338.32 L172.17,343.08 M166.22,343.08 L172.17,338.32 M169.20,337.72 L169.20,343.68" stroke="#ED7D31" stroke-width="1.3" fill="none"/><text x="174.80" y="345.30" class="lg">AuCu/Al<tspan class="sb" dy="2.9">2</tspan><tspan dy="-2.9">O</tspan><tspan class="sb" dy="2.9">3</tspan><tspan dy="-2.9"></tspan></text><rect x="166.40" y="352.50" width="5.60" height="5.60" fill="#00B0F0"/><text x="174.80" y="359.90" class="lg">AuCu/La<tspan class="sb" dy="2.9">2</tspan><tspan dy="-2.9">O</tspan><tspan class="sb" dy="2.9">3</tspan><tspan dy="-2.9"></tspan></text><path d="M166.23,369.90 L172.17,369.90 M169.20,366.93 L169.20,372.87" stroke="#404040" stroke-width="1.2" fill="none"/><text x="174.80" y="374.50" class="lg">AuCu/Fe<tspan class="sb" dy="2.9">2</tspan><tspan dy="-2.9">O</tspan><tspan class="sb" dy="2.9">3</tspan><tspan dy="-2.9"></tspan></text><path d="M400.20,289.45 L404.25,297.55 L396.15,297.55 Z" fill="#7030A0"/><text x="404.50" y="298.00" class="lg">AuCu/CeO<tspan class="sb" dy="2.9">2</tspan><tspan dy="-2.9">-SiO</tspan><tspan class="sb" dy="2.9">2</tspan><tspan dy="-2.9"></tspan></text><rect x="397.68" y="305.08" width="5.04" height="5.04" fill="#0070C0"/><text x="404.50" y="312.10" class="lg">AuCu/CeO<tspan class="sb" dy="2.9">2</tspan><tspan dy="-2.9">-ZrO</tspan><tspan class="sb" dy="2.9">2</tspan><tspan dy="-2.9"></tspan></text><path d="M400.20,317.52 L404.38,321.70 L400.20,325.88 L396.02,321.70 Z" fill="#00B050"/><text x="404.50" y="326.20" class="lg">AuCu/CeO<tspan class="sb" dy="2.9">2</tspan><tspan dy="-2.9">-Al</tspan><tspan class="sb" dy="2.9">2</tspan><tspan dy="-2.9">O</tspan><tspan class="sb" dy="2.9">3</tspan><tspan dy="-2.9"></tspan></text></svg></body></html>
